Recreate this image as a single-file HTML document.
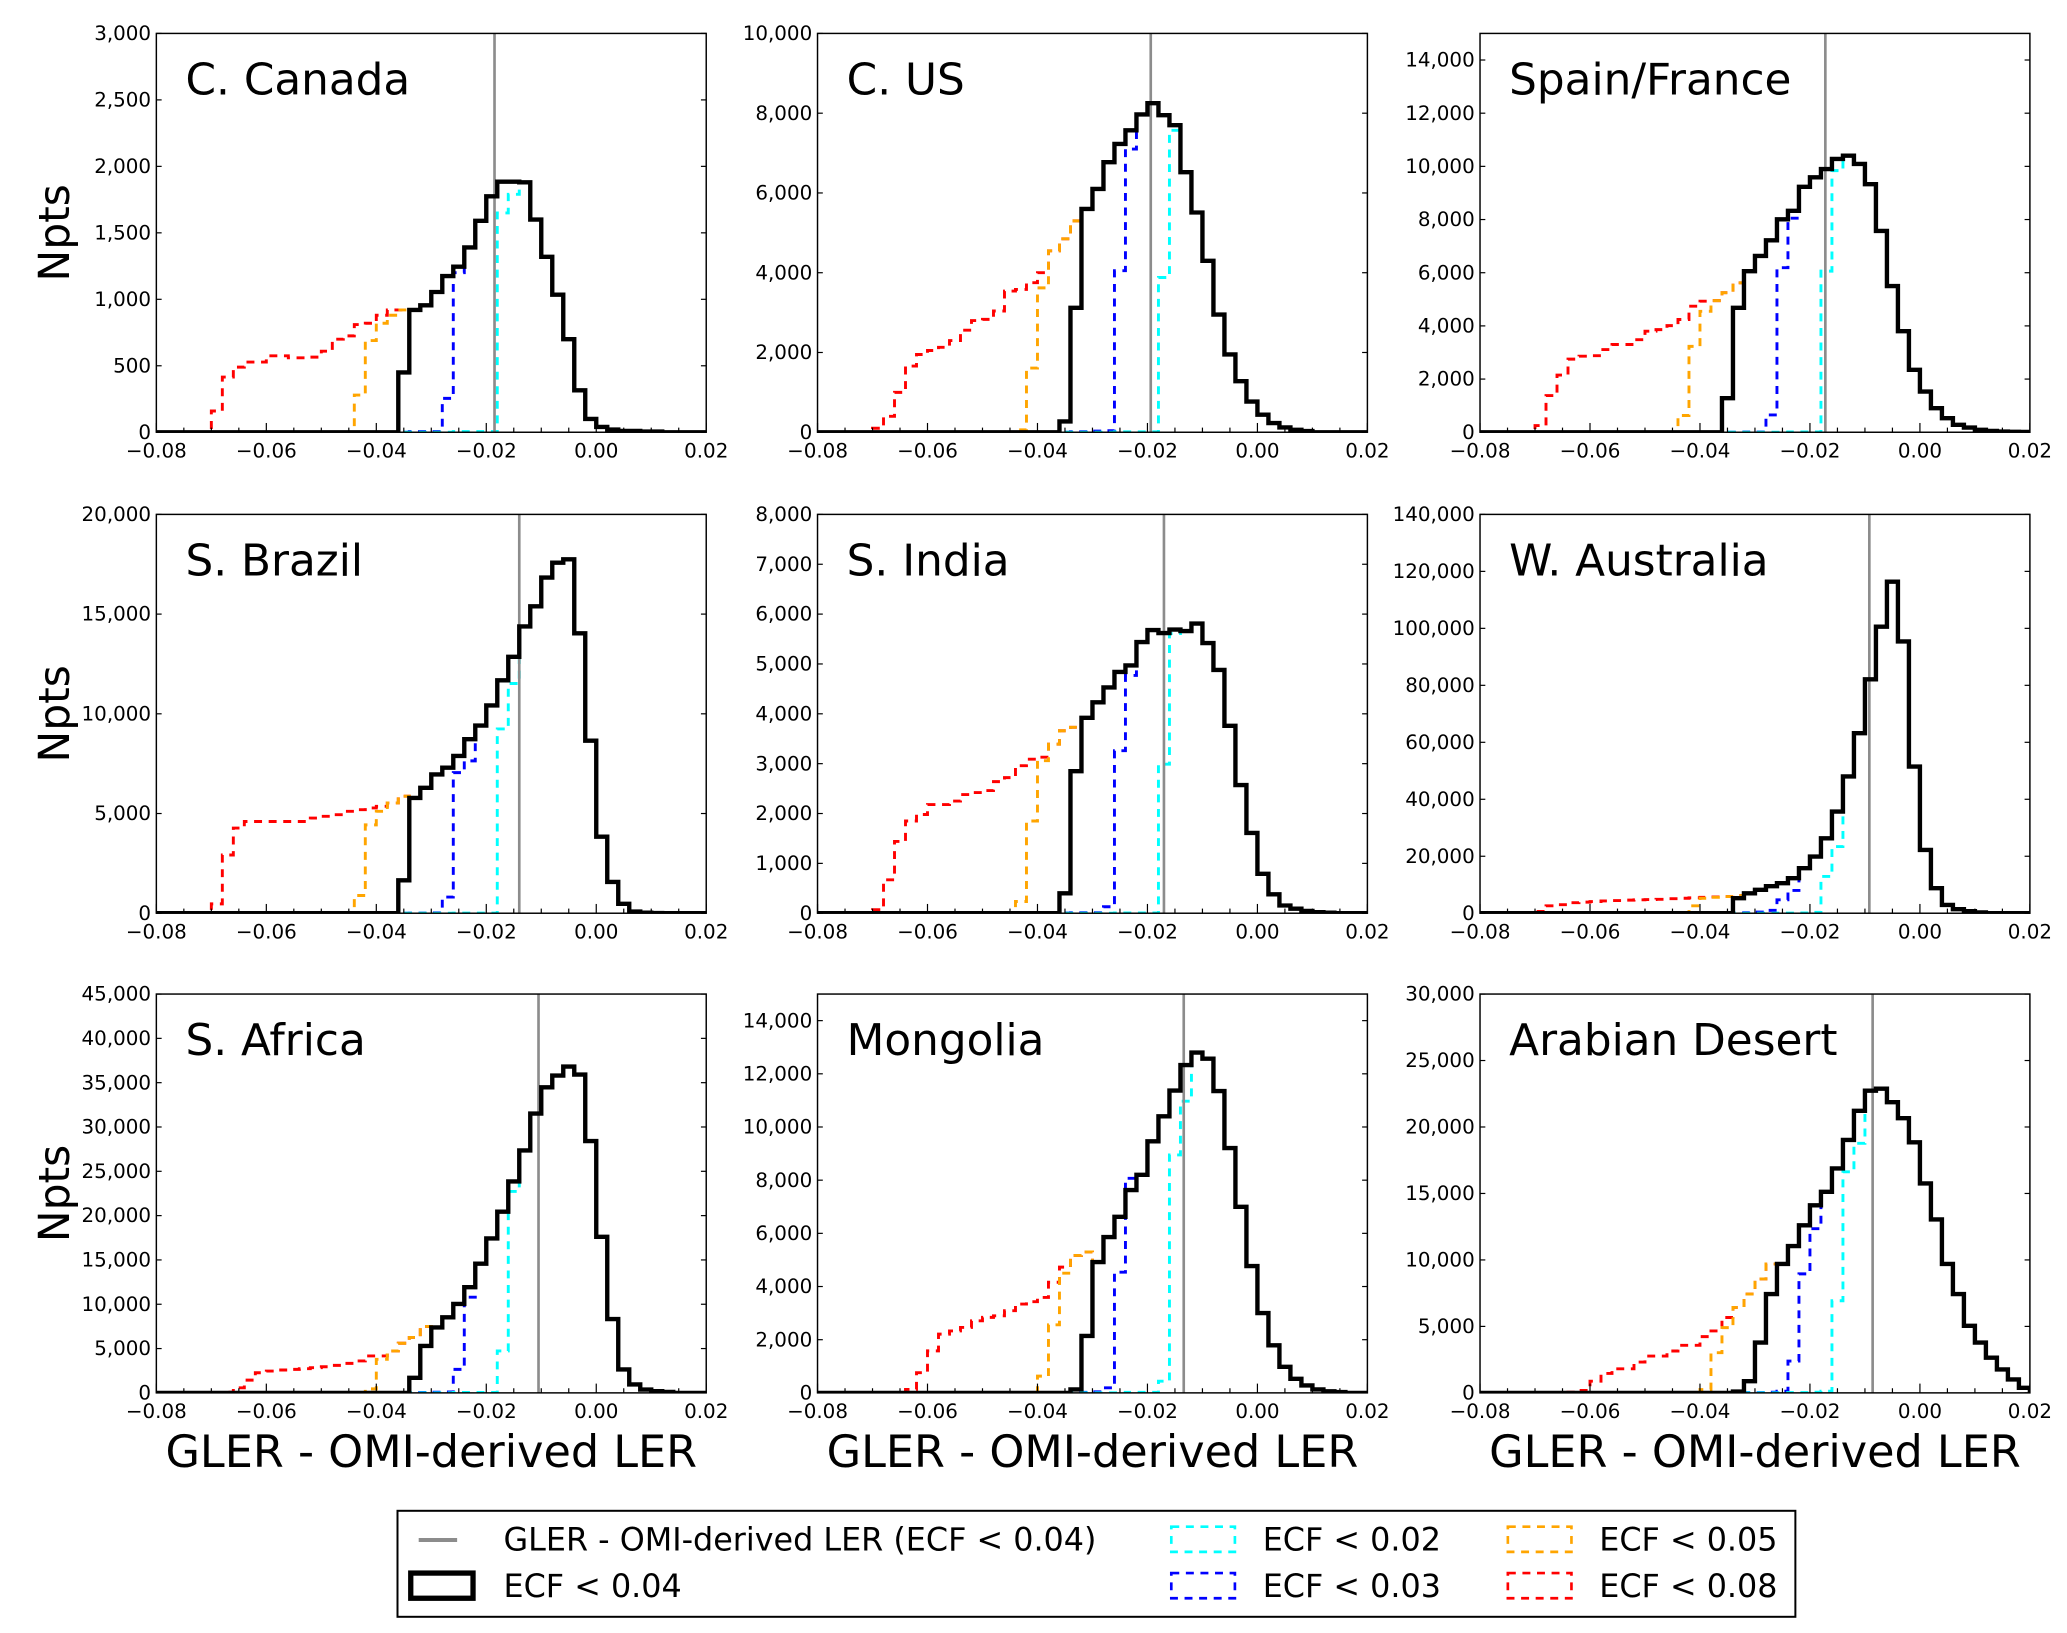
<!DOCTYPE html>
<html><head><meta charset="utf-8">
<style>
html,body{margin:0;padding:0;background:#fff;}
svg{display:block;font-family:"DejaVu Sans","Liberation Sans",sans-serif;}
</style></head>
<body>
<svg id="fig" width="2067" height="1633" viewBox="0 0 1560 1232" xmlns="http://www.w3.org/2000/svg">
<rect x="0" y="0" width="1560" height="1232" fill="#fff"/>
<g id="panels"></g>
<g>
  <rect x="300" y="1140" width="1055" height="80" fill="#fff" stroke="#000" stroke-width="1.5"/>
  <line x1="316" y1="1162" x2="345" y2="1162" stroke="#8c8c8c" stroke-width="3"/>
  <text x="380" y="1170" font-size="24">GLER - OMI-derived LER (ECF &lt; 0.04)</text>
  <rect x="310" y="1187" width="47" height="19" fill="none" stroke="#000" stroke-width="4"/>
  <text x="380" y="1205" font-size="24">ECF &lt; 0.04</text>
  <rect x="884" y="1152" width="48" height="19" fill="none" stroke="#00ffff" stroke-width="2" stroke-dasharray="6,5"/>
  <text x="953" y="1170" font-size="24">ECF &lt; 0.02</text>
  <rect x="884" y="1187" width="48" height="19" fill="none" stroke="#0000ff" stroke-width="2" stroke-dasharray="6,5"/>
  <text x="953" y="1205" font-size="24">ECF &lt; 0.03</text>
  <rect x="1138" y="1152" width="48" height="19" fill="none" stroke="#ffa500" stroke-width="2" stroke-dasharray="6,5"/>
  <text x="1207" y="1170" font-size="24">ECF &lt; 0.05</text>
  <rect x="1138" y="1187" width="48" height="19" fill="none" stroke="#ff0000" stroke-width="2" stroke-dasharray="6,5"/>
  <text x="1207" y="1205" font-size="24">ECF &lt; 0.08</text>
</g>
</svg>
<script>
// Bin k covers [-0.08+0.002k, -0.08+0.002(k+1)], k = 0..49
const titles = ["C. Canada","C. US","Spain/France","S. Brazil","S. India","W. Australia","S. Africa","Mongolia","Arabian Desert"];
const yMax = [3000,10000,15000,20000,8000,140000,45000,15000,30000];
const yStep = [500,2000,2000,5000,1000,20000,5000,2000,5000];
const meanLine = [-0.0185,-0.0194,-0.0172,-0.014,-0.017,-0.0092,-0.0105,-0.0134,-0.0086];
const xTicks = [-0.08,-0.06,-0.04,-0.02,0.00,0.02];

const blackStart = [22,22,22,22,22,23,23,23,23];
const canadaBlack = [450,920,955,1055,1175,1245,1390,1590,1775,1885,1885,1880,1600,1320,1035,700,315,100,40,20,10,10,5,5];
const usBlack = [270,3120,5600,6100,6770,7230,7570,7970,8250,7950,7700,6520,5510,4300,2950,1950,1280,770,440,230,120,60,30];
const spainBlack = [1280,4680,6060,6630,7220,8010,8330,9230,9590,9900,10280,10400,10090,9330,7570,5500,3800,2350,1530,905,530,280,175,90,50,25,15,10];
const brazilBlack = [1650,5780,6290,6960,7300,7890,8730,9410,10420,11680,12860,14380,15390,16830,17580,17750,14040,8650,3840,1570,470,85,30,10];
const indiaBlack = [400,2850,3920,4230,4530,4840,4970,5440,5680,5620,5690,5660,5810,5420,4880,3760,2570,1610,790,380,155,90,45,20,10];
const australiaBlack = [5260,7000,8200,9500,10530,12280,15800,19900,26300,35700,48000,63200,82100,100600,116400,95400,51500,22200,8770,2900,1400,700,300];
const africaBlack = [1700,5300,7390,8520,10040,11930,14580,17420,20450,23860,27350,31520,34470,35800,36820,35910,28410,17610,8330,2650,950,380,190,100];
const mongoliaBlack = [130,2140,4920,5860,6620,7630,8200,9460,10400,11370,12330,12800,12570,11350,9210,7000,4770,3000,1790,980,530,280,130,60,30];
const arabianBlack = [100,880,3780,7430,9700,11040,12600,14110,15120,16880,19030,21220,22730,22880,21870,20660,18850,15750,13050,9700,7430,5040,3780,2650,1760,1010,380];

const redStart = [5,5,5,5,5,5,6,8,8];
const canadaRed = [160,415,490,528,528,575,575,560,560,565,610,700,725,810,820,880,920,920];
const usRed = [100,400,1000,1660,1950,2050,2130,2300,2560,2800,2830,3040,3540,3580,3750,4000,4550,4850,5300];
const spainRed = [250,1380,2150,2750,2860,2880,3110,3300,3300,3480,3800,3860,4010,4240,4740,4930,4950,5250,5620];
const brazilRed = [470,2920,4270,4600,4600,4600,4600,4600,4600,4770,4860,4940,5110,5190,5280,5360,5530,5870];
const indiaRed = [70,670,1440,1850,1980,2180,2180,2250,2380,2420,2460,2640,2720,2960,3090,3130,3390,3660,3730];
const australiaRed = [600,2600,3000,3700,3900,4100,4300,4450,4600,4700,4800,4900,5100,5260,5400,5600,5700,5850,6200];
const africaRed = [80,570,1440,2270,2460,2580,2650,2730,2840,2950,3100,3330,3600,4170,4170,4730,5600,6250,7500];
const mongoliaRed = [130,760,1580,2210,2330,2460,2710,2840,2900,3090,3340,3430,3590,4160,4730,5170,5300];
const arabianRed = [50,180,880,1460,1810,1810,2320,2770,2770,3150,3580,3580,4230,4660,5670,6430,7430,8570,9700];

const orangeStart = [18,18,18,18,18,19,19,20,20];
const canadaOrange = [280,690,820,880,920];
const usOrange = [60,1610,3620,4550,4850,5300];
const spainOrange = [630,3230,4550,4950,5250,5620];
const brazilOrange = [890,4430,5110,5530,5870];
const indiaOrange = [235,1850,3060,3390,3660,3730];
const australiaOrange = [2600,5260,5600,5850,6200];
const africaOrange = [450,3790,4730,5600,6250,7500];
const mongoliaOrange = [630,2560,4500,5170,5300];
const arabianOrange = [250,3020,4910,6430,7430,8570,9700];

const blueStart = [23,23,24,23,22,23,23,23,24];
const canadaBlue = [5,5,5,255,1200];
const usBlue = [15,15,30,40,4050,7100];
const spainBlue = [10,10,650,6190,8050];
const brazilBlue = [5,10,20,810,7050,7640];
const indiaBlue = [5,10,10,10,130,3260,4770];
const australiaBlue = [100,200,400,1000,4700,8000];
const africaBlue = [50,50,80,100,2650,10800];
const mongoliaBlue = [20,20,40,190,4540,8070];
const arabianBlue = [20,20,50,130,2390,8950,12350];

const cyanStart = [27,27,28,27,27,27,27,28,28];
const canadaCyan = [5,5,5,5,1650,1790];
const usCyan = [10,10,10,10,3880,7570];
const spainCyan = [10,10,10,6060,9840];
const brazilCyan = [5,5,5,5,9240,11520];
const indiaCyan = [5,5,5,5,2990,5610];
const australiaCyan = [50,50,100,300,12900,23400];
const africaCyan = [50,50,50,50,4730,22730];
const mongoliaCyan = [20,20,20,440,8950,10970];
const arabianCyan = [20,20,50,130,6930,16630,18770];

const blacks = [canadaBlack,usBlack,spainBlack,brazilBlack,indiaBlack,australiaBlack,africaBlack,mongoliaBlack,arabianBlack];
const reds = [canadaRed,usRed,spainRed,brazilRed,indiaRed,australiaRed,africaRed,mongoliaRed,arabianRed];
const oranges = [canadaOrange,usOrange,spainOrange,brazilOrange,indiaOrange,australiaOrange,africaOrange,mongoliaOrange,arabianOrange];
const blues = [canadaBlue,usBlue,spainBlue,brazilBlue,indiaBlue,australiaBlue,africaBlue,mongoliaBlue,arabianBlue];
const cyans = [canadaCyan,usCyan,spainCyan,brazilCyan,indiaCyan,australiaCyan,africaCyan,mongoliaCyan,arabianCyan];

const NS = "http://www.w3.org/2000/svg";
const colX = [118,617,1117], rowY = [25,388,750], PW = 415, PH = 301;
const NB = 50;
const root = document.getElementById("panels");

function mk(tag, attrs, parent){
  const e = document.createElementNS(NS, tag);
  for (const k in attrs) e.setAttribute(k, attrs[k]);
  parent.appendChild(e);
  return e;
}
function blackFull(i){
  const a = new Array(NB).fill(0);
  blacks[i].forEach((v,j)=>{ if (blackStart[i]+j<NB) a[blackStart[i]+j]=v; });
  return a;
}
function composeFull(i, start, prefix){
  const a = blackFull(i);
  const end = start + prefix.length;
  for (let k=0;k<NB;k++){
    if (k<start) a[k]=0;
    else if (k<end) a[k]=prefix[k-start];
  }
  return a;
}
function fmt(v){ return v.toLocaleString("en-US"); }
function fmtX(v){ const s = Math.abs(v).toFixed(2); return (v< -1e-9 ? "\u2212" : "") + s; }

for (let i=0;i<9;i++){
  const x0 = colX[i%3], y0 = rowY[Math.floor(i/3)];
  const sx = v => x0 + (v + 0.08) / 0.1 * PW;
  const sy = v => y0 + PH - v / yMax[i] * PH;
  const binX = k => sx(-0.08 + 0.002*k);

  const g = mk("g", {}, root);
  
  

  const clipId = "clip"+i;
  const cp = mk("clipPath", {id: clipId}, g);
  mk("rect", {x:x0, y:y0-1, width:PW, height:PH+1}, cp);

  const series = [
    {name:"ecf-008-red", color:"#ff0000", data: composeFull(i, redStart[i], reds[i]), w:2.2, dash:"6,5"},
    {name:"ecf-005-orange", color:"#ffa500", data: composeFull(i, orangeStart[i], oranges[i]), w:2.2, dash:"6,5"},
    {name:"ecf-003-blue", color:"#0000ff", data: composeFull(i, blueStart[i], blues[i]), w:2.2, dash:"6,5"},
    {name:"ecf-002-cyan", color:"#00ffff", data: composeFull(i, cyanStart[i], cyans[i]), w:2.2, dash:"6,5"}
  ];
  const sg = mk("g", {"clip-path":"url(#"+clipId+")"}, g);
  series.forEach(s=>{
    let d = "M" + binX(0).toFixed(2) + "," + sy(0).toFixed(2);
    for (let k=0;k<NB;k++){ d += "V" + sy(s.data[k]).toFixed(2) + "H" + binX(k+1).toFixed(2); }
    d += "V" + sy(0).toFixed(2);
    const p = mk("path", {d:d, fill:"none", stroke:s.color, "stroke-width":s.w, "stroke-dasharray":s.dash}, sg);
    
    
  });
  const ml = mk("line", {x1:sx(meanLine[i]), x2:sx(meanLine[i]), y1:y0, y2:y0+PH, stroke:"#8c8c8c", "stroke-width":2}, sg);
  
  
  const bf = blackFull(i);
  let d = "M" + binX(0).toFixed(2) + "," + sy(0).toFixed(2);
  for (let k=0;k<NB;k++){ d += "V" + sy(bf[k]).toFixed(2) + "H" + binX(k+1).toFixed(2); }
  d += "V" + sy(0).toFixed(2);
  const bp = mk("path", {d:d, fill:"none", stroke:"#000", "stroke-width":3.3, "stroke-linejoin":"miter"}, sg);
  
  

  const fr = mk("rect", {x:x0, y:y0, width:PW, height:PH, fill:"none", stroke:"#000", "stroke-width":1.1}, g);
  
  

  for (let t=0;t<=20;t++){
    const v = -0.08 + 0.005*t;
    const major = (t%4===0);
    mk("line", {x1:sx(v), x2:sx(v), y1:y0+PH, y2:y0+PH-(major?7:3.5), stroke:"#000","stroke-width":0.9}, g);
  }
  xTicks.forEach(v=>{
    const tl = mk("text", {x:sx(v), y:y0+PH+19, "font-size":15, "text-anchor":"middle"}, g);
    tl.textContent = fmtX(v);
    
    
  });
  for (let v=0; v<=yMax[i]+1e-6; v+=yStep[i]){
    const yy = sy(v);
    mk("line", {x1:x0, x2:x0+4, y1:yy, y2:yy, stroke:"#000","stroke-width":0.9}, g);
    mk("line", {x1:x0+PW, x2:x0+PW-4, y1:yy, y2:yy, stroke:"#000","stroke-width":0.9}, g);
    const tl = mk("text", {x:x0-4, y:yy+5, "font-size":15, "text-anchor":"end"}, g);
    tl.textContent = fmt(v);
    
    
  }
  const tt = mk("text", {x:x0+22, y:y0+46, "font-size":33}, g);
  tt.textContent = titles[i];
  
  
  if (i%3===0){
    const cy = y0 + PH/2;
    const yl = mk("text", {x:0, y:0, "font-size":32, "text-anchor":"middle", transform:"translate(52,"+cy+") rotate(-90)"}, g);
    yl.textContent = "Npts";
    
    
  }
  if (i>=6){
    const xl = mk("text", {x:x0+PW/2, y:y0+PH+56, "font-size":33.6, "text-anchor":"middle"}, g);
    xl.textContent = "GLER - OMI-derived LER";
    
    
  }
}
</script>
</body></html>
